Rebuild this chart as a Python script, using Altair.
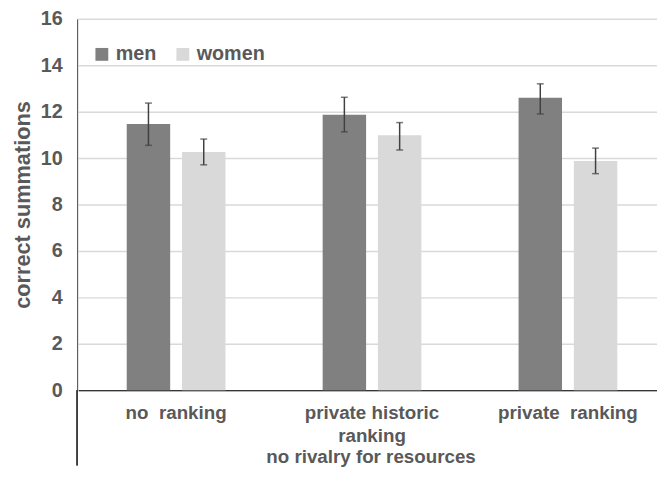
import altair as alt
import pandas as pd

categories = ["no\u00a0\u00a0ranking", "private historic|ranking", "private\u00a0\u00a0ranking"]
groups = ["men", "women"]
men = [11.47, 11.87, 12.60]
men_lo = [10.55, 11.13, 11.90]
men_hi = [12.37, 12.62, 13.20]
women = [10.26, 10.98, 9.87]
women_lo = [9.71, 10.35, 9.33]
women_hi = [10.82, 11.53, 10.43]
y_ticks = [0, 2, 4, 6, 8, 10, 12, 14, 16]
x_title = "no rivalry for resources"
y_title = "correct summations"

rows = []
for i, c in enumerate(categories):
    rows.append({"cat": c, "sex": "men", "v": men[i], "lo": men_lo[i], "hi": men_hi[i]})
    rows.append({"cat": c, "sex": "women", "v": women[i], "lo": women_lo[i], "hi": women_hi[i]})
df = pd.DataFrame(rows)

FONT = "Liberation Sans"
TXT = "#595959"
FS = 20
FSX = 19

xscale = alt.Scale(range=[1, 596], paddingInner=0, paddingOuter=0)
xenc = alt.X("cat:N", sort=categories, scale=xscale,
             axis=alt.Axis(title=x_title, labelAngle=0, ticks=False,
                           labelExpr="split(datum.label, '|')",
                           labelPadding=14, labelLineHeight=23,
                           labelFontSize=FSX, labelFontWeight="bold", labelColor=TXT,
                           labelFont=FONT,
                           titleFontSize=FSX, titleFontWeight="bold", titleColor=TXT,
                           titleFont=FONT, titleX=297, titleY=67,
                           titleBaseline="middle", titleAnchor="start", titleAlign="center",
                           domainColor="#000000", domainWidth=1, grid=False))
xoff = alt.XOffset("sex:N", sort=groups,
                   scale=alt.Scale(paddingInner=0.214, paddingOuter=0.879))

yscale = alt.Scale(domain=[0, 16], nice=False)

bars = alt.Chart(df).mark_bar().encode(
    x=xenc,
    xOffset=xoff,
    y=alt.Y("v:Q", scale=yscale,
            axis=alt.Axis(title=y_title, values=y_ticks, ticks=False,
                          labelPadding=15, labelFontSize=FS, labelFontWeight="bold",
                          labelColor=TXT, labelFont=FONT,
                          titleFontSize=22, titleFontWeight="bold", titleColor=TXT,
                          titleFont=FONT, titlePadding=6,
                          domainColor="#404040", domainWidth=1,
                          gridColor="#d9d9d9", gridWidth=1.5)),
    color=alt.Color("sex:N", sort=groups,
                    scale=alt.Scale(domain=groups, range=["#808080", "#d9d9d9"]),
                    legend=alt.Legend(title=None, orient="none", direction="horizontal",
                                      legendX=15, legendY=26, symbolType="square",
                                      symbolSize=169, symbolStrokeWidth=0,
                                      labelFontSize=FS, labelFontWeight="bold",
                                      labelColor=TXT, labelFont=FONT,
                                      labelOffset=4, columnPadding=16)),
)

rules = alt.Chart(df).mark_rule(color="#404040", strokeWidth=1.5).encode(
    x=alt.X("cat:N", sort=categories, scale=xscale), xOffset=xoff,
    y=alt.Y("lo:Q", scale=yscale), y2="hi:Q",
)
caps_hi = alt.Chart(df).mark_tick(color="#404040", size=7, thickness=1.5).encode(
    x=alt.X("cat:N", sort=categories, scale=xscale), xOffset=xoff,
    y=alt.Y("hi:Q", scale=yscale),
)
caps_lo = alt.Chart(df).mark_tick(color="#404040", size=7, thickness=1.5).encode(
    x=alt.X("cat:N", sort=categories, scale=xscale), xOffset=xoff,
    y=alt.Y("lo:Q", scale=yscale),
)
ext = alt.Chart(df).mark_rule(color="#404040", strokeWidth=1).encode(
    x=alt.value(0), y=alt.value(376), y2=alt.value(452),
)

chart = alt.layer(bars, rules, caps_hi, caps_lo, ext).properties(
    width=587, height=376,
    autosize=alt.AutoSizeParams(type="none"),
    padding={"left": 70, "top": 8, "right": 0, "bottom": 95},
).configure_view(stroke=None)

chart.save("out.html", embed_options={"renderer": "svg", "actions": False})
